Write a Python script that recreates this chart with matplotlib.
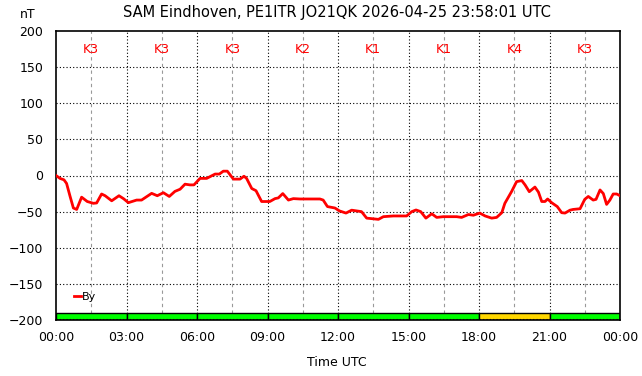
import numpy as np
import matplotlib
matplotlib.use('Agg')
import matplotlib.pyplot as plt

# Données (heures UTC, By en nT)
heures = [0, 0.17, 0.34, 0.45, 0.6, 0.74, 0.88, 1.09, 1.33, 1.59, 1.73, 1.94, 2.09, 2.37,
          2.68, 2.87, 3.08, 3.43, 3.64, 4.07, 4.31, 4.57, 4.82, 5.06, 5.28, 5.49, 5.70,
          5.87, 6.13, 6.41, 6.77, 6.95, 7.12, 7.29, 7.55, 7.83, 8.0, 8.11, 8.33, 8.51,
          8.75, 9.1, 9.32, 9.46, 9.65, 9.89, 10.1, 10.38, 11.23, 11.37, 11.55, 11.87,
          12.06, 12.34, 12.58, 13.0, 13.22, 13.72, 13.93, 14.35, 14.92, 15.14, 15.32,
          15.52, 15.74, 15.99, 16.2, 16.48, 17.05, 17.26, 17.55, 17.76, 18.03, 18.26,
          18.54, 18.75, 18.97, 19.1, 19.39, 19.6, 19.82, 19.96, 20.14, 20.38, 20.53,
          20.67, 20.81, 20.92, 21.09, 21.33, 21.52, 21.66, 21.87, 22.0, 22.3, 22.5,
          22.65, 22.86, 22.98, 23.15, 23.29, 23.43, 23.57, 23.71, 23.86, 24.0]
by = [0, -4, -6, -11, -29, -45, -47, -30, -36, -38.5, -38, -25.6, -28, -35,
      -28, -32, -37.6, -34, -34, -24.7, -28, -23.8, -29, -22, -19, -12, -13,
      -13, -4, -4, 2, 2, 6, 6, -5, -5, -1, -4, -18, -21,
      -36, -36, -32, -31, -25, -34, -32, -32.5, -32.5, -34, -43, -45,
      -49, -52, -48, -50, -59, -60.7, -57, -56, -56, -50, -47.7,
      -50, -59, -53, -58, -57, -57, -58, -54, -55, -52, -56,
      -59, -58, -51.5, -38.5, -22, -8.5, -7, -13, -22.4, -16, -23,
      -36, -36, -32.5, -37.6, -43, -51.5, -52, -48, -47, -46, -33,
      -29, -34, -33, -20, -25, -40, -34, -25.6, -25.6, -28]

# Indice K par bloc de 3 heures
debut_blocs = [0, 3, 6, 9, 12, 15, 18, 21]
indices_k = [3, 3, 3, 2, 1, 1, 4, 3]

titre = 'SAM Eindhoven, PE1ITR JO21QK 2026-04-25 23:58:01 UTC'
etiquettes_x = ['00:00', '03:00', '06:00', '09:00', '12:00', '15:00', '18:00', '21:00', '00:00']

fig = plt.figure(figsize=(6.42, 3.76), dpi=100)
ax = fig.add_axes([56 / 642, 1 - 320 / 376, 564 / 642, 289 / 376])

# Grille
for h in np.arange(1.5, 24, 3):
    ax.axvline(h, color='#999999', lw=0.8, ls=(0, (3, 3)), zorder=1)
for h in range(3, 24, 3):
    ax.axvline(h, color='black', lw=0.8, ls=(0, (1, 2)), zorder=1)
for v in range(-150, 200, 50):
    ax.axhline(v, color='black', lw=0.8, ls=(0, (1, 2)), zorder=1)

# Barres de l'indice K
couleurs = ['#ffd700' if k >= 4 else '#00ff00' for k in indices_k]
ax.bar(debut_blocs, [10] * len(debut_blocs), width=3, bottom=-200, align='edge',
       color=couleurs, edgecolor='black', linewidth=1, zorder=2)
ax.axhline(-199, color='black', lw=0.8, ls=(0, (1, 2)), zorder=2.5)
for d, k in zip(debut_blocs, indices_k):
    ax.text(d + 1.5, 174, f'K{k}', color='red', fontsize=9, ha='center', va='center')

# Courbe By
ax.plot(heures, by, color='red', lw=2, label='By', zorder=3)

ax.set_xlim(0, 24)
ax.set_ylim(-200, 200)
ax.set_xticks(range(0, 25, 3))
ax.set_xticklabels(etiquettes_x)
ax.set_yticks(range(-200, 201, 50))
ax.tick_params(length=0, labelsize=9)
ax.tick_params(axis='y', pad=9)
ax.tick_params(axis='x', pad=8)
for s in ax.spines.values():
    s.set_linewidth(1.2)

ax.legend(loc='lower left', bbox_to_anchor=(0.014, 0.028), frameon=False, fontsize=8,
          handlelength=0.6, handletextpad=0.1)

fig.text(337 / 642, 1 - 12 / 376, titre, ha='center', va='center', fontsize=10.5)
fig.text(28 / 642, 1 - 15 / 376, 'nT', ha='center', va='center', fontsize=9)
fig.text(337 / 642, 1 - 362 / 376, 'Time UTC', ha='center', va='center', fontsize=9)

fig.savefig('out.png', dpi=100)
